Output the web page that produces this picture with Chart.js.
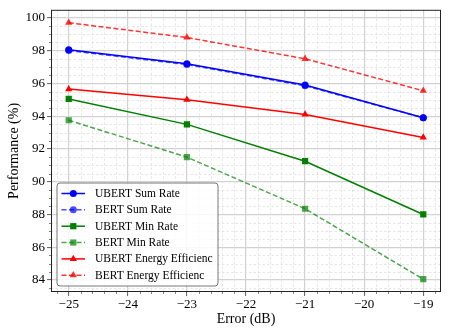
<!DOCTYPE html>
<html>
<head>
<meta charset="utf-8">
<script src="https://cdn.jsdelivr.net/npm/chart.js@4/dist/chart.umd.min.js"></script>
<style>
  html, body { margin: 0; padding: 0; background: #fff; }
</style>
</head>
<body>
<canvas id="chart" width="449" height="336"></canvas>
<script>
// ==============================
//  DATA
// ==============================
const ERRORS   = [-25, -23, -21, -19];
const X_TICKS  = [-25, -24, -23, -22, -21, -20, -19];
const Y_TICKS  = [84, 86, 88, 90, 92, 94, 96, 98, 100];

const UBERT_SUM = [98.05, 97.2, 95.9, 93.9];
const BERT_SUM  = [98.0, 97.15, 95.85, 93.9];
const UBERT_MIN = [95.05, 93.5, 91.25, 88.0];
const BERT_MIN  = [93.75, 91.5, 88.35, 84.05];
const UBERT_EE  = [95.65, 95.0, 94.1, 92.7];
const BERT_EE   = [99.7, 98.8, 97.5, 95.55];

const LABELS = [
  'UBERT Sum Rate', 'BERT Sum Rate',
  'UBERT Min Rate', 'BERT Min Rate',
  'UBERT Energy Efficienc', 'BERT Energy Efficienc'
];

const FONT = '"Liberation Serif", "Times New Roman", serif';

// ==============================
//  HELPERS
// ==============================
const toPts = ys => ERRORS.map((x, i) => ({ x, y: ys[i] }));
const minus = v => String(v).replace('-', '\u2212');

function series(i, data, color, dashed, marker, radius) {
  return {
    label: LABELS[i],
    data: toPts(data),
    borderColor: color,
    backgroundColor: color,
    pointBackgroundColor: color,
    pointBorderColor: color,
    borderWidth: 1.5,
    borderDash: dashed ? [5, 2.5] : [],
    pointStyle: marker,
    pointRadius: radius,
    pointBorderWidth: 0,
    tension: 0,
    order: 6 - i,
  };
}

function drawMarker(ctx, style, x, y, r) {
  ctx.beginPath();
  if (style === 'circle') {
    ctx.arc(x, y, r, 0, Math.PI * 2);
  } else if (style === 'rect') {
    const s = r * Math.SQRT1_2;
    ctx.rect(x - s, y - s, 2 * s, 2 * s);
  } else {
    ctx.moveTo(x, y - r);
    ctx.lineTo(x + r * 0.866, y + r * 0.5);
    ctx.lineTo(x - r * 0.866, y + r * 0.5);
    ctx.closePath();
  }
  ctx.fill();
}

// ==============================
//  PLUGINS
// ==============================
const minorGrid = {
  id: 'minorGrid',
  beforeDatasetsDraw(chart) {
    const { ctx, chartArea: a, scales: { x, y } } = chart;
    ctx.save();
    ctx.lineWidth = 0.7;
    ctx.setLineDash([2.5, 2]);
    ctx.strokeStyle = '#dcdcdc';
    for (let v = -25.2; v < -18.7; v += 0.2) {
      if (Math.abs(v - Math.round(v)) < 0.01) continue;
      const px = Math.round(x.getPixelForValue(v)) + 0.5;
      ctx.beginPath(); ctx.moveTo(px, a.top); ctx.lineTo(px, a.bottom); ctx.stroke();
    }
    for (let v = 83.5; v < 100.5; v += 0.5) {
      if (Math.abs(v / 2 - Math.round(v / 2)) < 0.01) continue;
      const py = Math.round(y.getPixelForValue(v)) + 0.5;
      ctx.beginPath(); ctx.moveTo(a.left, py); ctx.lineTo(a.right, py); ctx.stroke();
    }
    // minor tick marks
    ctx.setLineDash([]);
    ctx.strokeStyle = '#333';
    ctx.lineWidth = 0.6;
    for (let v = -25.2; v < -18.7; v += 0.2) {
      if (Math.abs(v - Math.round(v)) < 0.01) continue;
      const px = Math.round(x.getPixelForValue(v)) + 0.5;
      ctx.beginPath(); ctx.moveTo(px, a.bottom); ctx.lineTo(px, a.bottom + 2); ctx.stroke();
    }
    for (let v = 83.5; v < 100.5; v += 0.5) {
      if (Math.abs(v / 2 - Math.round(v / 2)) < 0.01) continue;
      const py = Math.round(y.getPixelForValue(v)) + 0.5;
      ctx.beginPath(); ctx.moveTo(a.left - 2, py); ctx.lineTo(a.left, py); ctx.stroke();
    }
    ctx.restore();
  }
};

const frameAndLegend = {
  id: 'frameAndLegend',
  afterDatasetsDraw(chart) {
    const { ctx, chartArea: a } = chart;
    ctx.save();
    ctx.strokeStyle = '#222';
    ctx.lineWidth = 1;
    ctx.strokeRect(a.left + 0.5, a.top + 0.5, a.right - a.left - 1, a.bottom - a.top - 1);

    // legend box
    const bx = 57, by = 183, bw = 161, bh = 103, rr = 3;
    ctx.beginPath();
    ctx.moveTo(bx + rr, by);
    ctx.arcTo(bx + bw, by, bx + bw, by + bh, rr);
    ctx.arcTo(bx + bw, by + bh, bx, by + bh, rr);
    ctx.arcTo(bx, by + bh, bx, by, rr);
    ctx.arcTo(bx, by, bx + bw, by, rr);
    ctx.closePath();
    ctx.fillStyle = 'rgba(255,255,255,0.85)';
    ctx.fill();
    ctx.strokeStyle = '#555';
    ctx.lineWidth = 0.8;
    ctx.stroke();

    ctx.font = '11.5px ' + FONT;
    ctx.textBaseline = 'middle';
    chart.data.datasets.forEach((ds, i) => {
      const cy = 193.5 + i * 16.35;
      ctx.strokeStyle = ds.borderColor;
      ctx.lineWidth = 1.5;
      ctx.setLineDash(ds.borderDash);
      ctx.beginPath(); ctx.moveTo(61.5, cy); ctx.lineTo(85, cy); ctx.stroke();
      ctx.setLineDash([]);
      ctx.fillStyle = ds.pointBackgroundColor;
      drawMarker(ctx, ds.pointStyle, 73.3, cy, ds.pointRadius);
      ctx.fillStyle = '#000';
      ctx.fillText(ds.label, 95, cy + 0.5);
    });
    ctx.restore();
  }
};

// ==============================
//  CHART
// ==============================
const datasets = [
  series(0, UBERT_SUM, '#0000ff', false, 'circle', 3.5),
  series(1, BERT_SUM, 'rgba(0,0,255,0.7)', true, 'circle', 3.5),
  series(2, UBERT_MIN, '#008000', false, 'rect', 4.4),
  series(3, BERT_MIN, 'rgba(0,128,0,0.7)', true, 'rect', 4.4),
  series(4, UBERT_EE, '#ff0000', false, 'triangle', 4.2),
  series(5, BERT_EE, 'rgba(255,0,0,0.8)', true, 'triangle', 4.2),
];

new Chart(document.getElementById('chart').getContext('2d'), {
  type: 'line',
  data: { datasets },
  options: {
    responsive: false,
    animation: false,
    devicePixelRatio: 1,
    layout: { padding: { left: 0, right: 8, top: 7, bottom: 0 } },
    plugins: { legend: { display: false }, tooltip: { enabled: false } },
    scales: {
      x: {
        type: 'linear',
        min: -25.3,
        max: -18.7,
        afterBuildTicks: s => { s.ticks = X_TICKS.map(v => ({ value: v })); },
        afterFit: s => { s.height = 44; },
        ticks: {
          color: '#000',
          font: { family: FONT, size: 13 },
          padding: 1,
          maxRotation: 0,
          callback: v => minus(v),
        },
        grid: { color: '#d2d2d2', lineWidth: 1.2, tickColor: '#333', tickLength: 4, tickWidth: 0.8 },
        border: { display: false },
        title: {
          display: true, text: 'Error (dB)', color: '#000',
          font: { family: FONT, size: 14, lineHeight: 1.2 },
          padding: { top: 8, bottom: 8 },
        },
      },
      y: {
        min: 83.27,
        max: 100.49,
        afterBuildTicks: s => { s.ticks = Y_TICKS.map(v => ({ value: v })); },
        afterFit: s => { s.width = 51; },
        ticks: {
          color: '#000',
          font: { family: FONT, size: 13 },
          padding: 2,
        },
        grid: { color: '#d2d2d2', lineWidth: 1.2, tickColor: '#333', tickLength: 4, tickWidth: 0.8 },
        border: { display: false },
        title: {
          display: true, text: 'Performance (%)', color: '#000',
          font: { family: FONT, size: 14, lineHeight: 1.2 },
          padding: { top: 6, bottom: 6 },
        },
      },
    },
  },
  plugins: [minorGrid, frameAndLegend],
});
</script>
</body>
</html>
